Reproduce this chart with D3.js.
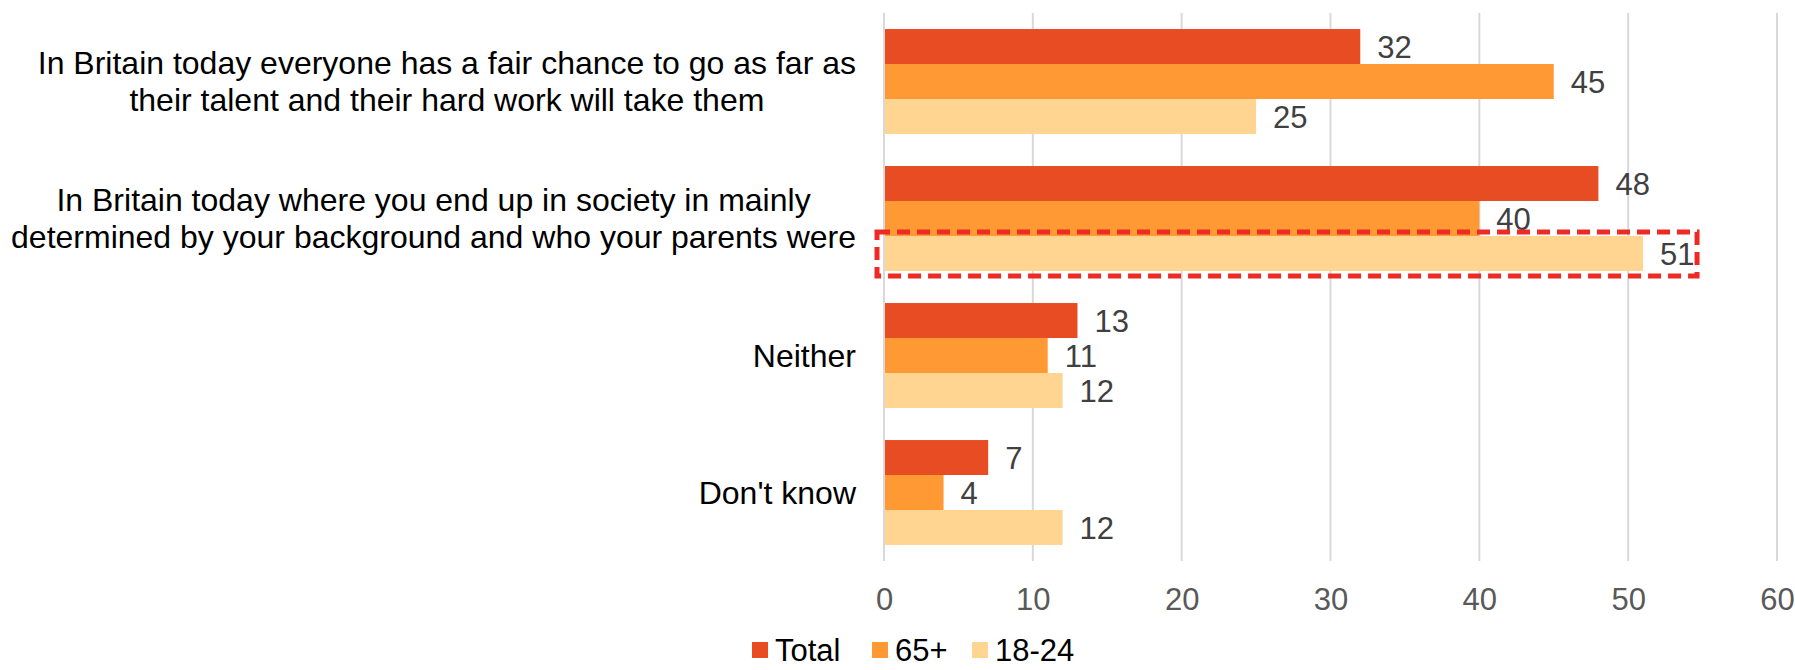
<!DOCTYPE html>
<html>
<head>
<meta charset="utf-8">
<script src="https://cdn.jsdelivr.net/npm/d3@7"></script>
<style>
  html, body { margin: 0; padding: 0; background: #ffffff; }
  svg { display: block; font-family: "Liberation Sans", Arial, sans-serif; }
</style>
</head>
<body>
<svg id="chart" width="1795" height="670"></svg>
<script>
// Survey responses, by age group
const categories = [
  ["In Britain today everyone has a fair chance to go as far as", "their talent and their hard work will take them"],
  ["In Britain today where you end up in society in mainly", "determined by your background and who your parents were"],
  ["Neither"],
  ["Don't know"]
];
const seriesNames = ["Total", "65+", "18-24"];
const totalValues = [32, 48, 13, 7];
const olderValues = [45, 40, 11, 4];
const youngValues = [25, 51, 12, 12];
const tickValues = [0, 10, 20, 30, 40, 50, 60];
const colors = ["#E84C22", "#FF9933", "#FFD591"];

const seriesValues = [totalValues, olderValues, youngValues];

const svg = d3.select("#chart");
const margin = { top: 13, left: 884, right: 17, bottom: 109 };
const width = 1795, height = 670;
const plotH = height - margin.top - margin.bottom;
const fontSize = 31;

const x = d3.scaleLinear().domain([0, 60]).range([margin.left, 1777]);
const y = d3.scaleBand().domain(d3.range(categories.length))
  .range([margin.top, margin.top + plotH]).paddingInner(0.234).paddingOuter(0.117);
const ySub = d3.scaleBand().domain(d3.range(seriesNames.length)).range([0, y.bandwidth()]);

// vertical gridlines
svg.append("g").selectAll("line").data(tickValues).join("line")
  .attr("x1", d => x(d)).attr("x2", d => x(d))
  .attr("y1", margin.top).attr("y2", margin.top + plotH)
  .attr("stroke", "#D9D9D9").attr("stroke-width", 2);

// x axis tick labels
const xAxis = d3.axisBottom(x).tickValues(tickValues).tickSize(0).tickPadding(0);
const gx = svg.append("g").attr("transform", `translate(0,${margin.top + plotH + 38})`).call(xAxis);
gx.select(".domain").remove();
gx.selectAll("text").attr("font-size", fontSize).attr("fill", "#595959")
  .attr("font-family", "Liberation Sans, Arial, sans-serif").attr("dy", "0.35em").attr("y", 0);

// bars
const groups = svg.append("g").selectAll("g").data(categories).join("g")
  .attr("transform", (d, i) => `translate(0,${y(i)})`);

groups.each(function(d, ci) {
  const g = d3.select(this);
  seriesNames.forEach((s, si) => {
    const v = seriesValues[si][ci];
    g.append("rect")
      .attr("x", x(0) + 1).attr("y", ySub(si))
      .attr("width", x(v) - x(0) - 1).attr("height", ySub.bandwidth())
      .attr("fill", colors[si]);
    g.append("text")
      .attr("x", x(v) + 17).attr("y", ySub(si) + ySub.bandwidth() / 2 + 1)
      .attr("dy", "0.35em").attr("font-size", fontSize).attr("fill", "#404040")
      .text(v);
  });
});

// category labels: centered block, right edge aligned near the axis
const labelRight = 856;
const lineH = 37;
categories.forEach((lines, ci) => {
  const cy = y(ci) + y.bandwidth() / 2;
  const t = svg.append("text").attr("font-size", 32).attr("fill", "#000");
  const spans = lines.map((ln, li) => t.append("tspan")
    .attr("y", cy + (li - (lines.length - 1) / 2) * lineH)
    .attr("dy", "0.35em").text(ln));
  const maxW = d3.max(spans, s => s.node().getComputedTextLength());
  spans.forEach(s => s.attr("x", labelRight - maxW / 2).attr("text-anchor", "middle"));
});

// highlight around the 18-24 bar of the second statement
const hiCat = 1, hiSer = 2;
svg.append("rect")
  .attr("x", x(0) - 7)
  .attr("y", y(hiCat) + ySub(hiSer) - 4)
  .attr("width", x(youngValues[hiCat]) + 54 - (x(0) - 7))
  .attr("height", ySub.bandwidth() + 9)
  .attr("fill", "none").attr("stroke", "#EE2A24")
  .attr("stroke-width", 5).attr("stroke-dasharray", "13,7");

// legend
const legendY = 650;
const legendX = [752, 872, 972];
const lg = svg.append("g").selectAll("g").data(seriesNames).join("g")
  .attr("transform", (d, i) => `translate(${legendX[i]},${legendY})`);
lg.append("rect").attr("x", 0).attr("y", -8).attr("width", 16).attr("height", 16)
  .attr("fill", (d, i) => colors[i]);
lg.append("text").attr("x", 23).attr("y", 0).attr("dy", "0.35em")
  .attr("font-size", fontSize).attr("fill", "#000").text(d => d);
</script>
</body>
</html>
